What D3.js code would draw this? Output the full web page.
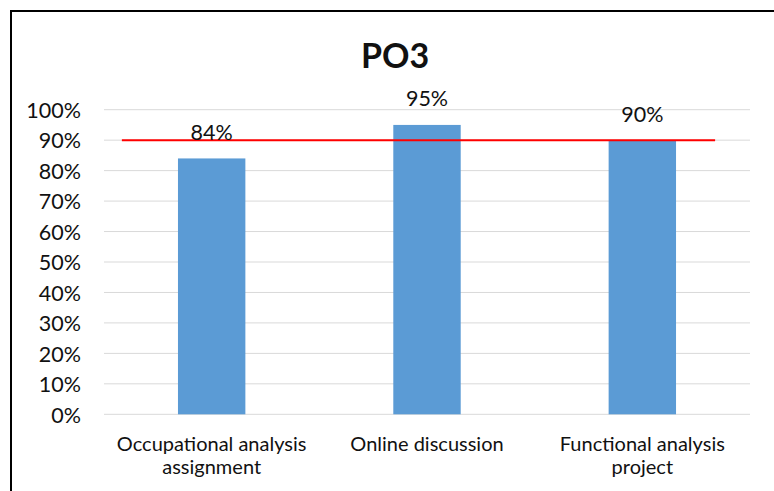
<!DOCTYPE html>
<html>
<head>
<meta charset="utf-8">
<script src="https://cdn.jsdelivr.net/npm/d3@7"></script>
<style>
  html, body { margin: 0; padding: 0; background: #fff; }
  svg { display: block; }
  text { font-family: Lato, "Open Sans", sans-serif; fill: #111; }
</style>
</head>
<body>
<div id="chart"></div>
<script>
const title = "PO3";
const categories = ["Occupational analysis assignment", "Online discussion", "Functional analysis project"];
const categoryLines = [["Occupational analysis", "assignment"], ["Online discussion"], ["Functional analysis", "project"]];
const values = [0.84, 0.95, 0.90];
const target = 0.90;
const yTicks = [0, 0.1, 0.2, 0.3, 0.4, 0.5, 0.6, 0.7, 0.8, 0.9, 1.0];

const W = 774, H = 491;
const svg = d3.select("#chart").append("svg").attr("width", W).attr("height", H);

// outer chart border (extends beyond the picture on right and bottom)
svg.append("rect")
  .attr("x", 11).attr("y", 11).attr("width", W + 20).attr("height", H + 20)
  .attr("fill", "none").attr("stroke", "#000").attr("stroke-width", 2);

const plot = { left: 104, right: 750, top: 109.7, bottom: 414.3 };

const x = d3.scaleBand().domain(categories).range([plot.left, plot.right]).padding(0);
const y = d3.scaleLinear().domain([0, 1]).range([plot.bottom, plot.top]);
const barW = x.bandwidth() * 0.313;

// gridlines
svg.append("g").selectAll("line").data(yTicks).join("line")
  .attr("x1", plot.left).attr("x2", plot.right)
  .attr("y1", d => y(d)).attr("y2", d => y(d))
  .attr("stroke", "#d9d9d9").attr("stroke-width", 1);

// y axis labels via d3 axis
const yAxis = d3.axisLeft(y).tickValues(yTicks).tickFormat(d3.format(".0%")).tickSize(0).tickPadding(0);
const gy = svg.append("g").attr("transform", "translate(81,0)").call(yAxis);
gy.select(".domain").remove();
gy.selectAll("text").attr("font-size", 21.5).attr("font-family", "Lato, sans-serif").attr("fill", "#111").attr("dy", "0.36em");

// bars
svg.append("g").selectAll("rect").data(values).join("rect")
  .attr("x", (d, i) => x(categories[i]) + x.bandwidth() / 2 - barW / 2)
  .attr("width", barW)
  .attr("y", d => y(d))
  .attr("height", d => y(0) - y(d))
  .attr("fill", "#5b9bd5");

// target line
const c0 = x(categories[0]) + x.bandwidth() / 2;
const c2 = x(categories[categories.length - 1]) + x.bandwidth() / 2;
svg.append("line")
  .attr("x1", c0 - x.step() * 0.417).attr("x2", c2 + x.step() * 0.338)
  .attr("y1", y(target)).attr("y2", y(target))
  .attr("stroke", "#ff0000").attr("stroke-width", 2);

// data labels
svg.append("g").selectAll("text").data(values).join("text")
  .attr("x", (d, i) => x(categories[i]) + x.bandwidth() / 2)
  .attr("y", d => y(d) - 18.5)
  .attr("text-anchor", "middle")
  .attr("font-size", 21.5)
  .text(d => d3.format(".0%")(d));

// category labels
const gx = svg.append("g");
categories.forEach((c, i) => {
  const t = gx.append("text")
    .attr("x", x(c) + x.bandwidth() / 2)
    .attr("y", 451)
    .attr("text-anchor", "middle")
    .attr("font-size", 20);
  categoryLines[i].forEach((ln, j) => {
    t.append("tspan").attr("x", x(c) + x.bandwidth() / 2).attr("dy", j === 0 ? 0 : 23).text(ln);
  });
});

// title
svg.append("text")
  .attr("x", 395).attr("y", 67.5)
  .attr("text-anchor", "middle")
  .attr("font-size", 34).attr("font-weight", "bold")
  .text(title);
</script>
</body>
</html>
